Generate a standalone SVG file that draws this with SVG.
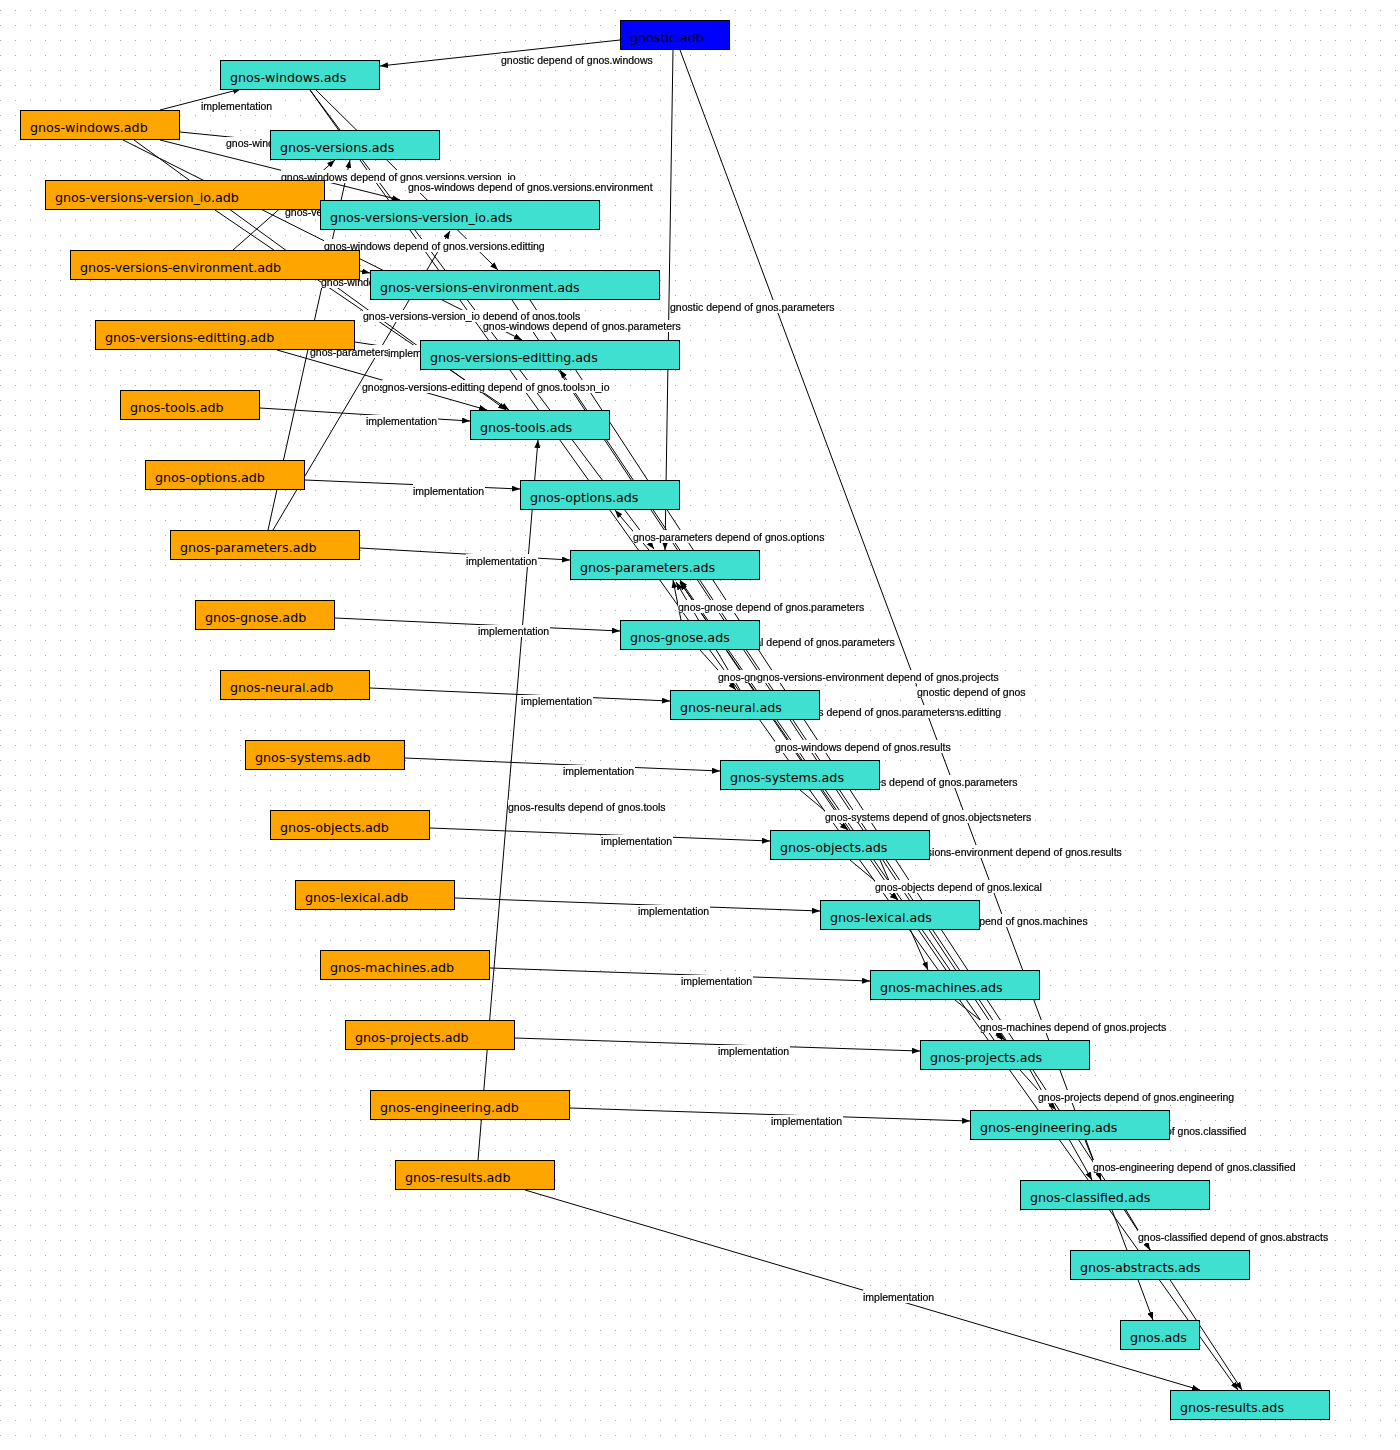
<svg xmlns="http://www.w3.org/2000/svg" width="1400" height="1450" viewBox="0 0 1400 1450">
<defs>
<pattern id="grid" width="15" height="15" patternUnits="userSpaceOnUse"><rect x="0" y="10" width="1" height="1" fill="#a8a8a8"/></pattern>
<marker id="ah" viewBox="0 0 8 6" refX="8" refY="3" markerWidth="8" markerHeight="6" markerUnits="userSpaceOnUse" orient="auto"><path d="M0,0 L8,3 L0,6 z" fill="#000"/></marker>
<filter id="lbg" x="0" y="0" width="1" height="1" color-interpolation-filters="sRGB"><feFlood flood-color="#ffffff"/><feComposite in="SourceGraphic" operator="over"/></filter>
</defs>
<style>
.e{stroke:#000;stroke-width:1;fill:none;marker-end:url(#ah)}
.l{font-family:"Liberation Sans",Arial,sans-serif;font-size:10.5px;fill:#000;stroke:#000;stroke-width:0.2px;filter:url(#lbg)}
.n rect{stroke:#000;stroke-width:1}
.ads rect{fill:#40E0D0}
.adb rect{fill:#FFA500}
.main rect{fill:#0000FF}
.n text{font-family:"DejaVu Sans",Verdana,sans-serif;font-size:12.7px;fill:#000}
</style>
<rect x="0" y="0" width="1400" height="1450" fill="#fff"/>
<rect x="0" y="0" width="1400" height="1450" fill="url(#grid)"/>
<g id="connectors">
<line class="e" x1="620" y1="40" x2="380" y2="66"/>
<line class="e" x1="160" y1="110" x2="241" y2="89"/>
<line class="e" x1="180" y1="132" x2="270" y2="141"/>
<line class="e" x1="160" y1="140" x2="400" y2="200"/>
<line class="e" x1="316" y1="90" x2="498" y2="270"/>
<line class="e" x1="233" y1="250" x2="335" y2="160"/>
<line class="e" x1="123" y1="140" x2="522" y2="340"/>
<line class="e" x1="134" y1="140" x2="506" y2="410"/>
<line class="e" x1="215" y1="210" x2="509" y2="410"/>
<line class="e" x1="310" y1="90" x2="654" y2="549"/>
<line class="e" x1="268" y1="530" x2="350" y2="160"/>
<line class="e" x1="355" y1="342" x2="420" y2="352"/>
<line class="e" x1="273" y1="530" x2="450" y2="231"/>
<line class="e" x1="277" y1="350" x2="487" y2="410"/>
<line class="e" x1="260" y1="408" x2="470" y2="421"/>
<line class="e" x1="673" y1="50" x2="665" y2="550"/>
<line class="e" x1="305" y1="480" x2="520" y2="489"/>
<line class="e" x1="649" y1="550" x2="615" y2="510"/>
<line class="e" x1="360" y1="548" x2="570" y2="560"/>
<line class="e" x1="681" y1="620" x2="673" y2="580"/>
<line class="e" x1="335" y1="618" x2="620" y2="631"/>
<line class="e" x1="740" y1="690" x2="676" y2="582"/>
<line class="e" x1="700" y1="650" x2="736" y2="690"/>
<line class="e" x1="512" y1="300" x2="1002" y2="1040"/>
<line class="e" x1="680" y1="50" x2="1153" y2="1320"/>
<line class="e" x1="370" y1="688" x2="670" y2="701"/>
<line class="e" x1="1006" y1="1040" x2="560" y2="370"/>
<line class="e" x1="848" y1="830" x2="680" y2="582"/>
<line class="e" x1="310" y1="90" x2="1238" y2="1390"/>
<line class="e" x1="405" y1="758" x2="720" y2="771"/>
<line class="e" x1="950" y1="970" x2="680" y2="580"/>
<line class="e" x1="478" y1="1160" x2="538" y2="440"/>
<line class="e" x1="994" y1="1040" x2="680" y2="582"/>
<line class="e" x1="800" y1="790" x2="848" y2="830"/>
<line class="e" x1="430" y1="828" x2="770" y2="841"/>
<line class="e" x1="530" y1="300" x2="1242" y2="1390"/>
<line class="e" x1="850" y1="860" x2="898" y2="900"/>
<line class="e" x1="455" y1="898" x2="820" y2="911"/>
<line class="e" x1="880" y1="860" x2="928" y2="970"/>
<line class="e" x1="490" y1="968" x2="870" y2="981"/>
<line class="e" x1="955" y1="1000" x2="1005" y2="1040"/>
<line class="e" x1="515" y1="1038" x2="920" y2="1051"/>
<line class="e" x1="1020" y1="1070" x2="1056" y2="1110"/>
<line class="e" x1="570" y1="1108" x2="970" y2="1121"/>
<line class="e" x1="1030" y1="1070" x2="1092" y2="1180"/>
<line class="e" x1="1085" y1="1140" x2="1101" y2="1180"/>
<line class="e" x1="1126" y1="1210" x2="1150" y2="1250"/>
<line class="e" x1="525" y1="1190" x2="1200" y2="1390"/>
<line class="e" x1="355" y1="270" x2="370" y2="273"/>
<text class="l" x="501" y="63.5">gnostic depend of gnos.windows</text>
<text class="l" x="201" y="110">implementation</text>
<text class="l" x="226" y="147">gnos-windows depend of gnos.versions</text>
<text class="l" x="281" y="180.5">gnos-windows depend of gnos.versions.version_io</text>
<text class="l" x="408" y="190.5">gnos-windows depend of gnos.versions.environment</text>
<text class="l" x="285" y="215.5">gnos-versions-environment depend of gnos.versions</text>
<text class="l" x="324" y="249.5">gnos-windows depend of gnos.versions.editting</text>
<text class="l" x="321" y="285.5">gnos-windows depend of gnos.tools</text>
<text class="l" x="363" y="320">gnos-versions-version_io depend of gnos.tools</text>
<text class="l" x="483" y="330">gnos-windows depend of gnos.parameters</text>
<text class="l" x="310" y="355.5">gnos-parameters depend of gnos.versions</text>
<text class="l" x="388" y="357">implementation</text>
<text class="l" x="362" y="391">gnos-parameters depend of gnos.versions.version_io</text>
<text class="l" x="382" y="390.5">gnos-versions-editting depend of gnos.tools</text>
<text class="l" x="366" y="425">implementation</text>
<text class="l" x="670" y="310.5">gnostic depend of gnos.parameters</text>
<text class="l" x="413" y="494.5">implementation</text>
<text class="l" x="633" y="540.5">gnos-parameters depend of gnos.options</text>
<text class="l" x="466" y="564.5">implementation</text>
<text class="l" x="678" y="610.5">gnos-gnose depend of gnos.parameters</text>
<text class="l" x="478" y="635">implementation</text>
<text class="l" x="708" y="646">gnos-neural depend of gnos.parameters</text>
<text class="l" x="718" y="680.5">gnos-gnose depend of gnos.neural</text>
<text class="l" x="757" y="680.5">gnos-versions-environment depend of gnos.projects</text>
<text class="l" x="917" y="695.5">gnostic depend of gnos</text>
<text class="l" x="521" y="705">implementation</text>
<text class="l" x="784" y="715.5">gnos-projects depend of gnos.versions.editting</text>
<text class="l" x="764" y="716">gnos-objects depend of gnos.parameters</text>
<text class="l" x="775" y="750.5">gnos-windows depend of gnos.results</text>
<text class="l" x="563" y="775">implementation</text>
<text class="l" x="815" y="785.5">gnos-machines depend of gnos.parameters</text>
<text class="l" x="508" y="810.5">gnos-results depend of gnos.tools</text>
<text class="l" x="837" y="821">gnos-projects depend of gnos.parameters</text>
<text class="l" x="825" y="820.5">gnos-systems depend of gnos.objects</text>
<text class="l" x="601" y="845">implementation</text>
<text class="l" x="886" y="855.5">gnos-versions-environment depend of gnos.results</text>
<text class="l" x="875" y="890.5">gnos-objects depend of gnos.lexical</text>
<text class="l" x="638" y="915">implementation</text>
<text class="l" x="905" y="924.5">gnos-objects depend of gnos.machines</text>
<text class="l" x="681" y="985">implementation</text>
<text class="l" x="980" y="1030.5">gnos-machines depend of gnos.projects</text>
<text class="l" x="718" y="1055">implementation</text>
<text class="l" x="1038" y="1100.5">gnos-projects depend of gnos.engineering</text>
<text class="l" x="771" y="1125">implementation</text>
<text class="l" x="1062" y="1135">gnos-projects depend of gnos.classified</text>
<text class="l" x="1093" y="1170.5">gnos-engineering depend of gnos.classified</text>
<text class="l" x="1138" y="1240.5">gnos-classified depend of gnos.abstracts</text>
<text class="l" x="863" y="1300.5">implementation</text>
</g>
<g id="nodes">
<g id="gnostic_adb" class="n main"><rect x="620.5" y="20.5" width="109" height="29"/><text x="630" y="42">gnostic.adb</text></g>
<g id="gnos_windows_ads" class="n ads"><rect x="220.5" y="60.5" width="159" height="29"/><text x="230" y="82">gnos-windows.ads</text></g>
<g id="gnos_windows_adb" class="n adb"><rect x="20.5" y="110.5" width="159" height="29"/><text x="30" y="132">gnos-windows.adb</text></g>
<g id="gnos_versions_ads" class="n ads"><rect x="270.5" y="130.5" width="169" height="29"/><text x="280" y="152">gnos-versions.ads</text></g>
<g id="gnos_versions_version_io_adb" class="n adb"><rect x="45.5" y="180.5" width="279" height="29"/><text x="55" y="202">gnos-versions-version_io.adb</text></g>
<g id="gnos_versions_version_io_ads" class="n ads"><rect x="320.5" y="200.5" width="279" height="29"/><text x="330" y="222">gnos-versions-version_io.ads</text></g>
<g id="gnos_versions_environment_adb" class="n adb"><rect x="70.5" y="250.5" width="289" height="29"/><text x="80" y="272">gnos-versions-environment.adb</text></g>
<g id="gnos_versions_environment_ads" class="n ads"><rect x="370.5" y="270.5" width="289" height="29"/><text x="380" y="292">gnos-versions-environment.ads</text></g>
<g id="gnos_versions_editting_adb" class="n adb"><rect x="95.5" y="320.5" width="259" height="29"/><text x="105" y="342">gnos-versions-editting.adb</text></g>
<g id="gnos_versions_editting_ads" class="n ads"><rect x="420.5" y="340.5" width="259" height="29"/><text x="430" y="362">gnos-versions-editting.ads</text></g>
<g id="gnos_tools_adb" class="n adb"><rect x="120.5" y="390.5" width="139" height="29"/><text x="130" y="412">gnos-tools.adb</text></g>
<g id="gnos_tools_ads" class="n ads"><rect x="470.5" y="410.5" width="139" height="29"/><text x="480" y="432">gnos-tools.ads</text></g>
<g id="gnos_options_adb" class="n adb"><rect x="145.5" y="460.5" width="159" height="29"/><text x="155" y="482">gnos-options.adb</text></g>
<g id="gnos_options_ads" class="n ads"><rect x="520.5" y="480.5" width="159" height="29"/><text x="530" y="502">gnos-options.ads</text></g>
<g id="gnos_parameters_adb" class="n adb"><rect x="170.5" y="530.5" width="189" height="29"/><text x="180" y="552">gnos-parameters.adb</text></g>
<g id="gnos_parameters_ads" class="n ads"><rect x="570.5" y="550.5" width="189" height="29"/><text x="580" y="572">gnos-parameters.ads</text></g>
<g id="gnos_gnose_adb" class="n adb"><rect x="195.5" y="600.5" width="139" height="29"/><text x="205" y="622">gnos-gnose.adb</text></g>
<g id="gnos_gnose_ads" class="n ads"><rect x="620.5" y="620.5" width="139" height="29"/><text x="630" y="642">gnos-gnose.ads</text></g>
<g id="gnos_neural_adb" class="n adb"><rect x="220.5" y="670.5" width="149" height="29"/><text x="230" y="692">gnos-neural.adb</text></g>
<g id="gnos_neural_ads" class="n ads"><rect x="670.5" y="690.5" width="149" height="29"/><text x="680" y="712">gnos-neural.ads</text></g>
<g id="gnos_systems_adb" class="n adb"><rect x="245.5" y="740.5" width="159" height="29"/><text x="255" y="762">gnos-systems.adb</text></g>
<g id="gnos_systems_ads" class="n ads"><rect x="720.5" y="760.5" width="159" height="29"/><text x="730" y="782">gnos-systems.ads</text></g>
<g id="gnos_objects_adb" class="n adb"><rect x="270.5" y="810.5" width="159" height="29"/><text x="280" y="832">gnos-objects.adb</text></g>
<g id="gnos_objects_ads" class="n ads"><rect x="770.5" y="830.5" width="159" height="29"/><text x="780" y="852">gnos-objects.ads</text></g>
<g id="gnos_lexical_adb" class="n adb"><rect x="295.5" y="880.5" width="159" height="29"/><text x="305" y="902">gnos-lexical.adb</text></g>
<g id="gnos_lexical_ads" class="n ads"><rect x="820.5" y="900.5" width="159" height="29"/><text x="830" y="922">gnos-lexical.ads</text></g>
<g id="gnos_machines_adb" class="n adb"><rect x="320.5" y="950.5" width="169" height="29"/><text x="330" y="972">gnos-machines.adb</text></g>
<g id="gnos_machines_ads" class="n ads"><rect x="870.5" y="970.5" width="169" height="29"/><text x="880" y="992">gnos-machines.ads</text></g>
<g id="gnos_projects_adb" class="n adb"><rect x="345.5" y="1020.5" width="169" height="29"/><text x="355" y="1042">gnos-projects.adb</text></g>
<g id="gnos_projects_ads" class="n ads"><rect x="920.5" y="1040.5" width="169" height="29"/><text x="930" y="1062">gnos-projects.ads</text></g>
<g id="gnos_engineering_adb" class="n adb"><rect x="370.5" y="1090.5" width="199" height="29"/><text x="380" y="1112">gnos-engineering.adb</text></g>
<g id="gnos_engineering_ads" class="n ads"><rect x="970.5" y="1110.5" width="199" height="29"/><text x="980" y="1132">gnos-engineering.ads</text></g>
<g id="gnos_results_adb" class="n adb"><rect x="395.5" y="1160.5" width="159" height="29"/><text x="405" y="1182">gnos-results.adb</text></g>
<g id="gnos_classified_ads" class="n ads"><rect x="1020.5" y="1180.5" width="189" height="29"/><text x="1030" y="1202">gnos-classified.ads</text></g>
<g id="gnos_abstracts_ads" class="n ads"><rect x="1070.5" y="1250.5" width="179" height="29"/><text x="1080" y="1272">gnos-abstracts.ads</text></g>
<g id="gnos_ads" class="n ads"><rect x="1120.5" y="1320.5" width="79" height="29"/><text x="1130" y="1342">gnos.ads</text></g>
<g id="gnos_results_ads" class="n ads"><rect x="1170.5" y="1390.5" width="159" height="29"/><text x="1180" y="1412">gnos-results.ads</text></g>
</g>
</svg>
